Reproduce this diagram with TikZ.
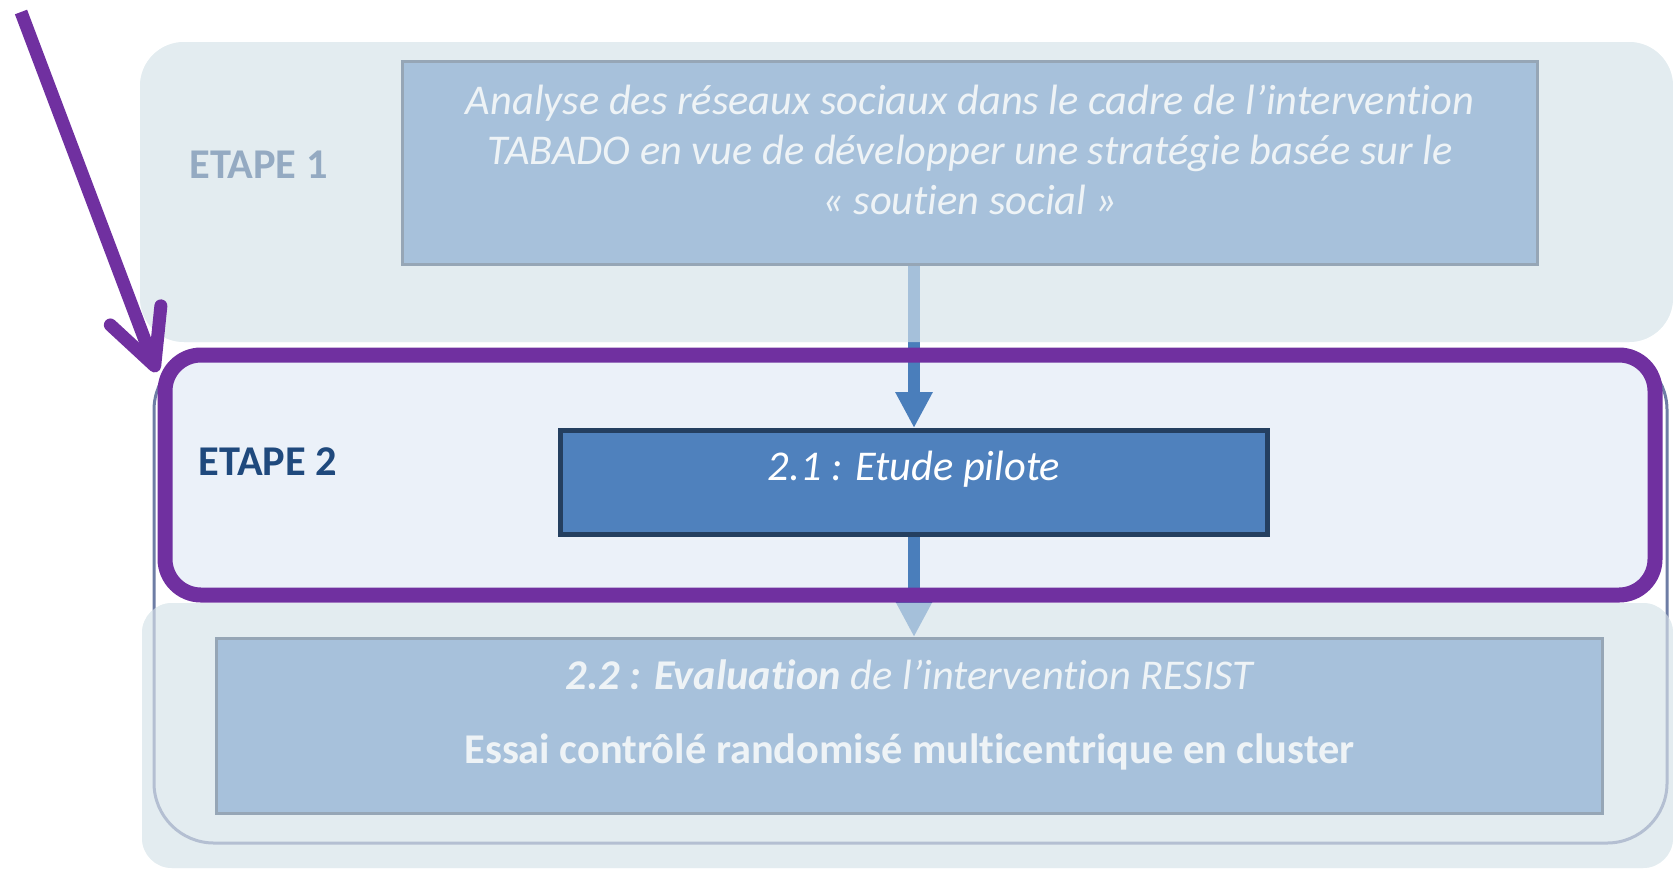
\documentclass[tikz,border=0pt]{standalone}
\usepackage{fontspec}
\setmainfont{Carlito}[Ligatures=NoCommon]
\usetikzlibrary{arrows.meta}

\definecolor{zone}{RGB}{227,236,240}
\definecolor{cadre}{RGB}{235,241,249}
\definecolor{bleu}{RGB}{79,129,189}
\definecolor{bleufonce}{RGB}{36,63,96}
\definecolor{marine}{RGB}{31,73,125}
\definecolor{violetcadre}{RGB}{112,48,160}
\definecolor{trait}{RGB}{110,125,165}
\definecolor{fleche}{RGB}{74,126,187}

\tikzset{
  zonefond/.style={fill=zone},
  voile/.style={fill=zone,fill opacity=0.6},
  boite/.style={draw=bleufonce,fill=bleu,line width=1.5pt},
  texteblanc/.style={text=white,font=\fontsize{21.2}{25}\selectfont\itshape,align=center},
  etape/.style={font=\fontsize{21.2}{25}\selectfont\bfseries,text=marine},
  liaison/.style={fleche,line width=6pt,-{Triangle[length=18pt,width=17.5pt]}}
}

\begin{document}
\begin{tikzpicture}[x=0.5pt,y=-0.5pt]
\useasboundingbox (0,0) rectangle (1673,869);

\fill[zonefond,rounded corners=22pt] (140,42) rectangle (1673,342);
\fill[zonefond,rounded corners=15pt] (142,603) rectangle (1673,868);
\fill[cadre,rounded corners=18pt] (165,355) rectangle (1655,595);
\draw[trait,line width=1.5pt,rounded corners=30pt] (154,350) rectangle (1667,843);

\node[boite,minimum width=567.5pt,minimum height=101.5pt] (etape1box) at (970,163) {};
\node[texteblanc] (etape1txt) at (970,150) {Analyse des réseaux sociaux dans le cadre de l’intervention\\TABADO en vue de développer une stratégie basée sur le\\« soutien social »};
\node[etape] (etape1lbl) at (258.5,165) {ETAPE 1};

\node[boite,minimum width=693pt,minimum height=87.5pt] (evalbox) at (909.5,726) {};
\node[texteblanc] (evaltxt) at (909.5,715) {\textbf{2.2 : Evaluation} de l’intervention RESIST\\[12pt]\upshape\bfseries Essai contrôlé randomisé multicentrique en cluster};

\node[boite,line width=2.5pt,minimum width=353.5pt,minimum height=52pt] (pilote) at (914,482.5) {};
\node[texteblanc,anchor=base] (pilotetxt) at (914,480) {2.1 : Etude pilote};
\node[etape] (etape2lbl) at (268,461.5) {ETAPE 2};

\draw[liaison] (pilote.north |- etape1box.south) -- (pilote.north);
\draw[liaison] (pilote.south) -- (pilote.south |- evalbox.north);

\fill[voile,rounded corners=22pt] (140,42) rectangle (1673,342);
\fill[voile,rounded corners=15pt] (142,603) rectangle (1673,868);

\draw[violetcadre,line width=7.5pt,rounded corners=18pt] (165,355) rectangle (1655,595);

\coordinate (depart) at (21,12);
\coordinate (cible) at (157,372);
\draw[violetcadre,line width=6.5pt,-{Straight Barb[length=27pt,width=27pt,round]}] (depart) -- (cible);
\end{tikzpicture}
\end{document}
